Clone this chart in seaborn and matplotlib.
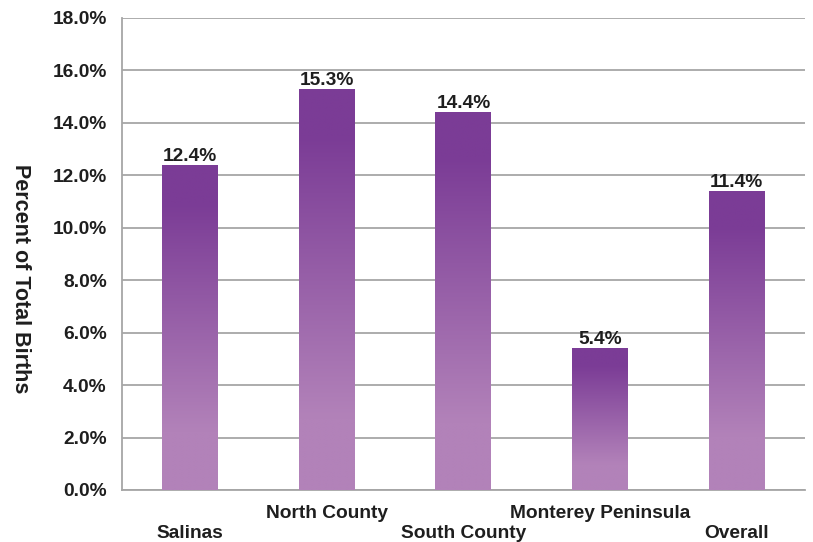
import numpy as np
import seaborn as sns
from matplotlib import pyplot as plt
from matplotlib.colors import LinearSegmentedColormap
from matplotlib.ticker import FormatStrFormatter

regions = ["Salinas", "North County", "South County", "Monterey Peninsula", "Overall"]
percents = [12.4, 15.3, 14.4, 5.4, 11.4]
# staggered labels: lower row gets a leading blank line
tick_labels = ["\nSalinas", "North County", "\nSouth County", "Monterey Peninsula", "\nOverall"]

dark = "#7B3C96"
light = "#B282B9"
text_color = "#1e1e1e"
grid_color = "#a6a6a6"

sns.set_style("white")
plt.rcParams['font.family'] = ['Liberation Sans', 'DejaVu Sans']
plt.rcParams['font.weight'] = 'bold'

fig = plt.figure(figsize=(8.13, 5.42), dpi=100)
ax = fig.add_axes([0.150, 0.096, 0.840, 0.871])

sns.barplot(x=regions, y=percents, color=light, width=0.41, ax=ax, zorder=3)

# vertical gradient on each bar (dark on top, light at bottom)
cmap = LinearSegmentedColormap.from_list("bar", [(0, light), (0.18, light), (0.88, dark), (1, dark)])
grad = np.linspace(0, 1, 256).reshape(-1, 1)
for patch in ax.patches:
     x0, y0 = patch.get_x(), patch.get_y()
     w, h = patch.get_width(), patch.get_height()
     im = ax.imshow(grad, extent=[x0, x0 + w, y0, y0 + h], origin='lower',
                    aspect='auto', cmap=cmap, zorder=3, interpolation='bilinear')
     im.set_clip_path(patch)
     patch.set_facecolor('none')
     patch.set_edgecolor('none')

fs = 13.8
ax.bar_label(ax.containers[0], labels=[f"{v:.1f}%" for v in percents], padding=0,
             fontsize=fs, fontweight='bold', color=text_color)

ax.set_xlim(-0.5, 4.5)
ax.set_ylim(0, 18)
ax.set_yticks(np.arange(0, 18.1, 2))
ax.yaxis.set_major_formatter(FormatStrFormatter('%.1f%%'))
ax.set_xticks(range(len(regions)))
ax.set_xticklabels(tick_labels, fontsize=fs, fontweight='bold', color=text_color, linespacing=1.2)
ax.set_xticks(np.arange(-0.5, 5, 1), minor=True)
ax.tick_params(axis='x', which='major', length=0, pad=11)
ax.tick_params(axis='x', which='minor', length=6, width=1.2, color=grid_color, direction='out')
ax.tick_params(axis='y', length=7, width=1.2, color=grid_color, direction='out', pad=4,
               labelsize=fs, labelcolor=text_color)
for lab in ax.get_yticklabels():
     lab.set_fontweight('bold')

ax.set_xlabel('')
ax.set_ylabel('')
ax.grid(axis='y', color=grid_color, linewidth=1.3, zorder=0)
ax.set_axisbelow(True)
for side in ['top', 'right']:
     ax.spines[side].set_visible(False)
for side in ['left', 'bottom']:
     ax.spines[side].set_color(grid_color)
     ax.spines[side].set_linewidth(1.3)

fig.text(20 / 813, 1 - 279 / 542, "Percent of Total Births", rotation=270, ha='center', va='center',
         fontsize=15.5, fontweight='bold', color=text_color)

fig.savefig('out.png', dpi=100)
